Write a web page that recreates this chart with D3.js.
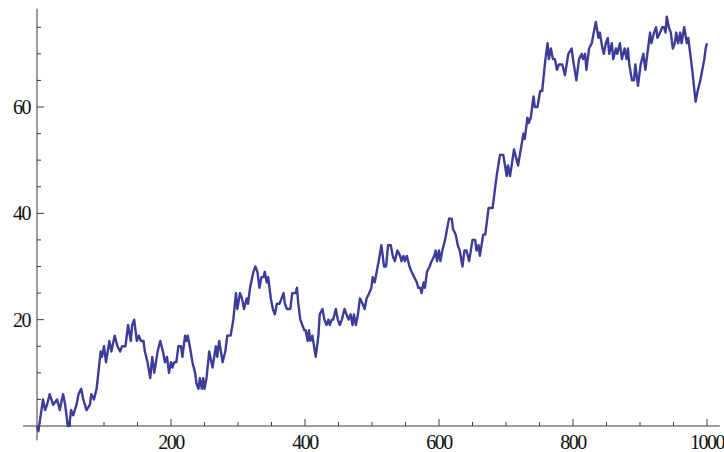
<!DOCTYPE html>
<html>
<head>
<meta charset="utf-8">
<script src="https://cdn.jsdelivr.net/npm/d3@7"></script>
<style>
  html, body { margin: 0; padding: 0; background: #ffffff; }
  svg { display: block; }
  .tick-label { font-family: "Liberation Serif", "DejaVu Serif", serif; font-size: 20px; fill: #111; letter-spacing: -1.5px; }
</style>
</head>
<body>
<svg id="chart" width="724" height="452"></svg>
<script>
// Random walk: step index and cumulative position at that step
const steps = [
  0, 2, 9, 12, 15, 19, 24, 30, 34, 39, 42, 46, 48, 51, 54, 59, 62, 66, 69, 74, 79, 81, 85, 89, 95, 97, 100, 103, 108, 111,
  116, 120, 124, 127, 132, 136, 140, 142, 145, 149, 152, 155, 159, 161, 165, 169, 172, 175, 180, 184, 186, 188, 191, 194, 197, 200, 202, 205, 208, 211, 215, 217, 221, 223, 225, 228, 232, 236, 238, 241, 243, 246, 248, 250,
  253, 257, 262, 267, 269, 272, 277, 281, 284, 289, 293, 297, 299, 303, 306, 309, 313, 315, 318, 323, 326, 329, 332, 335, 338, 340, 343, 345, 349, 352, 355, 358, 362, 365, 368, 370, 373,
  378, 381, 386, 388, 390, 393, 396, 399, 401, 404, 406, 408, 411, 416, 420, 422, 426, 429, 432, 435, 437, 440, 442, 446, 449, 452, 455, 459, 462, 465, 468, 471, 473, 476, 479, 482, 486, 489, 492, 496, 499,
  501, 504, 507, 510, 514, 518, 521, 524, 528, 531, 534, 538, 542, 544, 547, 549, 552, 556, 559, 563, 567, 569, 572, 574, 577, 579, 582, 586, 589, 593, 595, 597, 600, 602, 605, 609, 612, 615, 619, 621, 625,
  628, 631, 635, 638, 641, 645, 650, 654, 656, 659, 661, 666, 669, 674, 680, 686, 691, 696, 701, 703, 706, 712, 716, 718, 726, 728, 732, 734, 737, 741, 743, 747, 751, 754, 758,
  762, 764, 767, 770, 773, 776, 779, 784, 788, 793, 798, 800, 805, 809, 813, 815, 818, 820, 824, 828, 831, 834, 838, 840, 844, 846, 849, 852, 854, 858, 860, 864, 866, 870, 873, 877,
  880, 882, 884, 888, 891, 893, 897, 901, 905, 908, 912, 915, 917, 921, 924, 926, 930, 933, 936, 938, 940, 943, 946, 949, 952, 954, 957, 960, 962, 966, 970, 972, 977, 983, 986, 990, 993, 996, 998, 1000
];
const positions = [
  0, -1, 5, 3, 4, 6, 4, 5, 3, 6, 4, 0, 0, 3, 2, 4, 6, 7, 5, 3, 4, 6, 5, 7, 14, 13, 15, 12, 16, 14,
  17, 15, 14, 15, 15, 19, 16, 19, 20, 16, 17, 16, 16, 14, 12, 9, 13, 10, 14, 16, 15, 14, 12, 13, 10, 12, 11, 12, 12, 15, 15, 13, 17, 16, 17, 15, 12, 10, 8, 7, 9, 7, 9, 7,
  9, 14, 11, 15, 13, 16, 12, 14, 17, 17, 20, 25, 22, 25, 24, 22, 24, 23, 26, 29, 30, 29, 26, 28, 28, 29, 27, 28, 24, 22, 21, 23, 23, 24, 25, 23, 22,
  22, 25, 25, 26, 23, 20, 19, 18, 18, 16, 18, 16, 17, 13, 17, 21, 22, 20, 19, 20, 19, 20, 20, 22, 20, 19, 20, 22, 21, 20, 21, 19, 21, 19, 21, 24, 23, 22, 24, 25, 26,
  28, 27, 29, 31, 34, 30, 30, 34, 34, 32, 31, 33, 32, 31, 32, 31, 32, 30, 29, 28, 27, 26, 26, 25, 27, 26, 29, 30, 31, 32, 33, 31, 33, 31, 33, 35, 37, 39, 39, 37, 36,
  34, 33, 30, 33, 33, 31, 35, 35, 33, 34, 32, 36, 36, 41, 41, 47, 51, 51, 47, 49, 47, 52, 50, 49, 55, 54, 58, 57, 58, 62, 60, 60, 63, 63, 68,
  72, 69, 71, 69, 69, 67, 68, 68, 66, 70, 71, 69, 65, 69, 70, 69, 70, 67, 71, 72, 74, 76, 73, 74, 71, 70, 72, 73, 70, 72, 69, 71, 70, 72, 69, 71,
  69, 71, 68, 65, 65, 68, 64, 68, 70, 67, 71, 74, 72, 74, 75, 73, 74, 75, 75, 74, 77, 75, 74, 71, 72, 74, 72, 74, 72, 75, 72, 73, 68, 61, 63, 65, 67, 69, 71, 72
];

const xMajor = [200, 400, 600, 800, 1000];
const xMinor = [50, 100, 150, 250, 300, 350, 450, 500, 550, 650, 700, 750, 850, 900, 950];
const yMajor = [20, 40, 60];
const yMinor = [5, 10, 15, 25, 30, 35, 45, 50, 55, 65, 70, 75];

const svg = d3.select("#chart");

const x = d3.scaleLinear().domain([0, 1000]).range([37, 707]);
const y = d3.scaleLinear().domain([0, 60]).range([426, 107]);

const axisColor = "#3a3a3a";

// x axis line (plot range padded beyond the data)
svg.append("line")
  .attr("x1", x(-21)).attr("x2", x(1019))
  .attr("y1", y(0)).attr("y2", y(0))
  .attr("stroke", axisColor).attr("stroke-width", 1);

// y axis line
svg.append("line")
  .attr("x1", x(0)).attr("x2", x(0))
  .attr("y1", y(-2.7)).attr("y2", y(78.5))
  .attr("stroke", axisColor).attr("stroke-width", 1);

// x ticks point upward into the plot
svg.append("g").selectAll("line").data(xMajor).join("line")
  .attr("x1", d => x(d)).attr("x2", d => x(d))
  .attr("y1", y(0)).attr("y2", y(0) - 7)
  .attr("stroke", axisColor).attr("stroke-width", 1);
svg.append("g").selectAll("line").data(xMinor).join("line")
  .attr("x1", d => x(d)).attr("x2", d => x(d))
  .attr("y1", y(0)).attr("y2", y(0) - 4)
  .attr("stroke", axisColor).attr("stroke-width", 1);

// y ticks point right into the plot
svg.append("g").selectAll("line").data(yMajor).join("line")
  .attr("x1", x(0)).attr("x2", x(0) + 7)
  .attr("y1", d => y(d)).attr("y2", d => y(d))
  .attr("stroke", axisColor).attr("stroke-width", 1);
svg.append("g").selectAll("line").data(yMinor).join("line")
  .attr("x1", x(0)).attr("x2", x(0) + 4)
  .attr("y1", d => y(d)).attr("y2", d => y(d))
  .attr("stroke", axisColor).attr("stroke-width", 1);

// tick labels
svg.append("g").selectAll("text").data(xMajor).join("text")
  .attr("class", "tick-label")
  .attr("x", d => x(d))
  .attr("y", y(0) + 23)
  .attr("text-anchor", "middle")
  .text(d => d);
svg.append("g").selectAll("text").data(yMajor).join("text")
  .attr("class", "tick-label")
  .attr("x", x(0) - 7)
  .attr("y", d => y(d) + 7)
  .attr("text-anchor", "end")
  .text(d => d);

// the walk
const walk = steps.map((s, i) => [s, positions[i]]);
svg.append("path")
  .datum(walk)
  .attr("fill", "none")
  .attr("stroke", "rgb(61,61,153)")
  .attr("stroke-width", 2.4)
  .attr("stroke-linejoin", "round")
  .attr("d", d3.line().x(d => x(d[0])).y(d => y(d[1])));
</script>
</body>
</html>
